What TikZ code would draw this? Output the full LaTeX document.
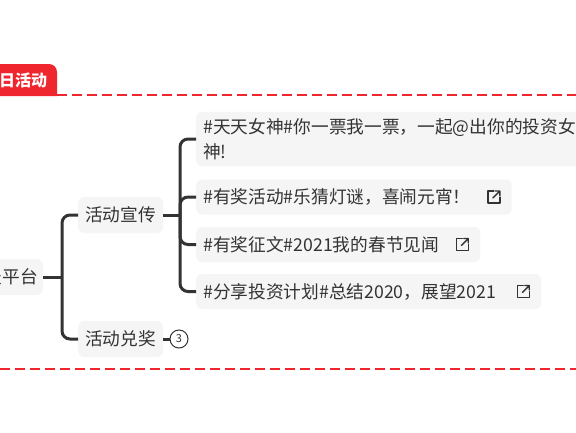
\documentclass[tikz,border=0pt]{standalone}
\usepackage{fontspec}
\setmainfont{Noto Sans CJK SC}
\usetikzlibrary{positioning}
\definecolor{tabred}{HTML}{F0262E}
\definecolor{ink}{HTML}{333333}
\definecolor{boxgray}{HTML}{F5F5F5}
\tikzset{
  topic/.style={rectangle,fill=boxgray,rounded corners=6pt,text=ink,inner xsep=7pt,inner ysep=0pt,minimum height=36pt,font=\fontsize{17.7}{21}\selectfont},
  leaf/.style={rectangle,fill=boxgray,rounded corners=6pt,text=ink,align=left,inner xsep=7pt,inner ysep=6.5pt,minimum height=35pt,font=\fontsize{17.7}{25}\selectfont},
  counter/.style={circle,draw=ink,line width=1pt,fill=white,minimum size=18pt,inner sep=0pt,text=ink,font=\fontsize{11}{11}\selectfont},
  tabtext/.style={text=white,inner sep=0pt,font=\fontsize{16}{16}\selectfont\bfseries},
  conn/.style={draw=ink,line width=3pt,rounded corners=8pt},
  redline/.style={draw=tabred,line width=2.5pt,dash pattern=on 10pt off 5pt},
  linkicon/.pic={
    \draw[ink,line width=1.3pt,line cap=round,line join=round] (0pt,6pt) -- (-6pt,6pt) -- (-6pt,-6pt) -- (6pt,-6pt) -- (6pt,0pt);
    \draw[ink,line width=1.3pt,line cap=round,line join=round] (-1pt,-1pt) -- (6pt,6pt) (1.5pt,6pt) -- (6pt,6pt) -- (6pt,1.5pt);
  }
}
\begin{document}
\begin{tikzpicture}[x=1pt,y=-1pt]
\useasboundingbox (0,0) rectangle (576,432);
\fill[white] (0,0) rectangle (576,432);
\clip (0,0) rectangle (576,432);
% tab and frame lines
\fill[tabred] (-10,96) -- (-10,64) [rounded corners=8pt] -- (57,64) [sharp corners] -- (57,96) -- cycle;
\node[tabtext,anchor=west] (tab) at (-1,80) {日活动};
\coordinate (topl) at (57,95);
\coordinate (topr) at (576,95);
\coordinate (botl) at (0,369);
\coordinate (botr) at (576,369);
\draw[redline] (topl) -- (topr);
\draw[redline] (botl) -- (botr);
% topics
\node[topic,anchor=east,inner xsep=5pt] (root) at (43,277) {天平台};
\node[topic,anchor=west] (xuan) at (78,215) {活动宣传};
\node[topic,anchor=west] (dui) at (78,339) {活动兑奖};
\node[counter] (cnt) at (179,339) {3};
% leaves
\node[leaf,anchor=west] (la) at (196,139) {\#天天女神\#你一票我一票，一起@出你的投资女\\神!};
\node[leaf,anchor=west] (lb) at (196,197) {\#有奖活动\#乐猜灯谜，喜闹元宵！\hspace{34pt}};
\node[leaf,anchor=west] (lc) at (196,244.5) {\#有奖征文\#2021我的春节见闻\hspace{34pt}};
\node[leaf,anchor=west] (ld) at (196,291.5) {\#分享投资计划\#总结2020，展望2021\hspace{38pt}};
\foreach \n in {lb,lc,ld}
  \pic at ([xshift=-18pt]\n.east) {linkicon};
% connectors
\coordinate (j1) at (62,277);
\coordinate (j2) at (180,215);
\draw[conn] (root.east) -- (j1);
\draw[conn] (xuan.west) -| (j1) |- (dui.west);
\draw[conn] (xuan.east) -- (j2);
\foreach \n in {la,lb,lc,ld}
  \draw[conn] (j2) |- (\n.west);
\draw[conn] (dui.east) -- (cnt.west);
\end{tikzpicture}
\end{document}
